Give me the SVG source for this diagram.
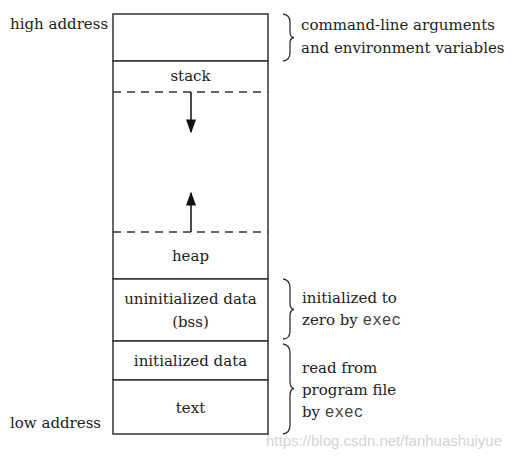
<svg xmlns="http://www.w3.org/2000/svg" width="524" height="458" viewBox="0 0 524 458">
<style>
.t{font-family:"DejaVu Serif","Liberation Serif",serif;font-size:15px;fill:#222}
.m{font-family:"Liberation Mono",monospace;font-size:16px;fill:#444}
.c{text-anchor:middle}
.box{fill:#fff;stroke:#333;stroke-width:1.5}
.dash{stroke:#333;stroke-width:1.3;stroke-dasharray:8,6;fill:none}
.br{fill:none;stroke:#333;stroke-width:1.3}
.ar{stroke:#111;stroke-width:1.5;fill:none}
</style>
<defs>
<marker id="ah" viewBox="0 0 10 10" refX="9" refY="5" markerWidth="14" markerHeight="10" preserveAspectRatio="none" markerUnits="userSpaceOnUse" orient="auto">
<path d="M0,0 L10,5 L0,10 z" fill="#111"/>
</marker>
</defs>
<rect width="524" height="458" fill="#fff"/>
<g id="args"><rect class="box" x="113" y="14" width="155" height="47"/></g>
<g id="stackheap">
<rect class="box" x="113" y="61" width="155" height="218"/>
<text class="t c" x="190.5" y="81">stack</text>
<line class="dash" x1="113" y1="92" x2="268" y2="92"/>
<line class="dash" x1="113" y1="232" x2="268" y2="232"/>
<text class="t c" x="190.5" y="261">heap</text>
</g>
<g id="bss"><rect class="box" x="113" y="279" width="155" height="62"/>
<text class="t c" x="190.5" y="304">uninitialized data</text>
<text class="t c" x="190.5" y="327">(bss)</text></g>
<g id="data"><rect class="box" x="113" y="341" width="155" height="39"/>
<text class="t c" x="190.5" y="366">initialized data</text></g>
<g id="text"><rect class="box" x="113" y="380" width="155" height="54"/>
<text class="t c" x="190.5" y="413">text</text></g>
<g id="connectors">
<line class="ar" x1="191" y1="92" x2="191" y2="132" marker-end="url(#ah)"/>
<line class="ar" x1="191" y1="232" x2="191" y2="193" marker-end="url(#ah)"/>
</g>
<g id="labels">
<text class="t" x="10" y="29">high address</text>
<text class="t" x="10" y="428">low address</text>
<path class="br" d="M283,14 Q290,15 290,22 L290,32 Q290,37 294,37.5 Q290,38 290,43 L290,53 Q290,60 283,61"/>
<text class="t" x="301" y="30">command-line arguments</text>
<text class="t" x="301" y="53">and environment variables</text>
<path class="br" d="M283,279 Q290,280 290,288 L290,303 Q290,309 294,309.5 Q290,310 290,316 L290,331 Q290,339 283,339"/>
<text class="t" x="302" y="303">initialized to</text>
<text class="t" x="302" y="325">zero by <tspan class="m">exec</tspan></text>
<path class="br" d="M283,344 Q290,345 290,353 L290,381 Q290,388 294,388.5 Q290,389 290,396 L290,425 Q290,433 283,434"/>
<text class="t" x="302" y="373">read from</text>
<text class="t" x="302" y="395">program file</text>
<text class="t" x="302" y="417">by <tspan class="m">exec</tspan></text>
<text x="266" y="446" style="font-family:'Liberation Sans',sans-serif;font-size:15px;fill:#d4d4d4">https://blog.csdn.net/fanhuashuiyue</text>
</g>
</svg>
